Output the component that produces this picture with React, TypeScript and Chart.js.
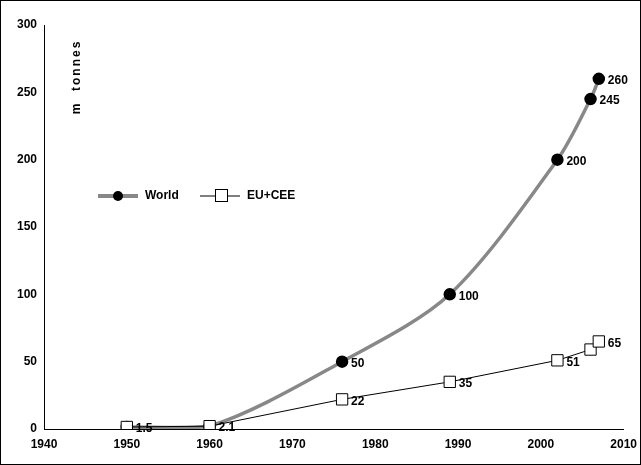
import { useEffect, useRef } from "react"
import { Chart, registerables } from "chart.js"

Chart.register(...registerables)

const years = [1950, 1960, 1976, 1989, 2002, 2006, 2007]
const world = [1.5, 2.1, 50, 100, 200, 245, 260]
const euCee = [1.5, 2.1, 22, 35, 51, 59, 65]
const worldLabels = ["", "", "50", "100", "200", "245", "260"]
const euLabels = ["1.5", "2.1", "22", "35", "51", "", "65"]

const FONT = "bold 12px 'Liberation Sans', Arial, sans-serif"

const extras = {
  id: "extras",
  afterDatasetsDraw(chart: Chart) {
    const ctx = chart.ctx
    ctx.save()
    ctx.font = FONT
    ctx.fillStyle = "#000"
    ctx.textBaseline = "middle"
    const lbls = [worldLabels, euLabels]
    lbls.forEach((list, di) => {
      const meta = chart.getDatasetMeta(di)
      meta.data.forEach((pt: any, i: number) => {
        if (list[i]) ctx.fillText(list[i], pt.x + 9, pt.y + 2)
      })
    })
    // axis title
    ctx.save()
    ctx.translate(76, 76)
    ctx.rotate(-Math.PI / 2)
    ctx.textAlign = "center"
    ;(ctx as any).letterSpacing = "2px"
    ctx.fillText("m  tonnes", 0, 0)
    ctx.restore()
    // legend
    const ly = 195
    ctx.strokeStyle = "#888"
    ctx.lineWidth = 4
    ctx.beginPath()
    ctx.moveTo(97, ly)
    ctx.lineTo(137, ly)
    ctx.stroke()
    ctx.fillStyle = "#000"
    ctx.beginPath()
    ctx.arc(117, ly, 5, 0, Math.PI * 2)
    ctx.fill()
    ctx.fillText("World", 144, ly)
    ctx.strokeStyle = "#000"
    ctx.lineWidth = 1
    ctx.beginPath()
    ctx.moveTo(199, ly)
    ctx.lineTo(239, ly)
    ctx.stroke()
    ctx.fillStyle = "#fff"
    ctx.fillRect(214, ly - 6, 12, 12)
    ctx.strokeRect(214.5, ly - 6.5, 12, 12)
    ctx.fillStyle = "#000"
    ctx.fillText("EU+CEE", 246, ly)
    ctx.restore()
  },
}

export default function App() {
  const ref = useRef<HTMLCanvasElement>(null)

  useEffect(() => {
    document.body.style.margin = "0"
    if (!ref.current) return
    const tickFont = { family: "'Liberation Sans', Arial", weight: "bold" as const, size: 12 }
    const chart = new Chart(ref.current, {
      type: "line",
      data: {
        datasets: [
          {
            label: "World",
            order: 1,
            data: years.map((x, i) => ({ x, y: world[i] })),
            borderColor: "#888",
            borderWidth: 3.5,
            tension: 0.3,
            pointStyle: "circle",
            pointRadius: 4.5,
            pointBackgroundColor: "#000",
            pointBorderColor: "#000",
          },
          {
            label: "EU+CEE",
            order: 0,
            data: years.map((x, i) => ({ x, y: euCee[i] })),
            borderColor: "#000",
            borderWidth: 1,
            tension: 0,
            pointStyle: "rect",
            pointRadius: 8,
            pointBackgroundColor: "#fff",
            pointBorderColor: "#000",
            pointBorderWidth: 1,
          },
        ],
      },
      options: {
        responsive: false,
        animation: false,
        layout: { padding: { left: 8, right: 14, top: 24, bottom: 10 } },
        plugins: { legend: { display: false }, tooltip: { enabled: false } },
        scales: {
          x: {
            type: "linear",
            min: 1940,
            max: 2010,
            afterFit: (s: any) => { s.height = 25 },
            ticks: { stepSize: 10, color: "#000", font: tickFont, callback: (v: any) => String(v) },
            grid: { display: false, drawTicks: true, tickLength: 5, color: "#000" },
            border: { color: "#000" },
          },
          y: {
            min: 0,
            max: 300,
            afterFit: (s: any) => { s.width = 35 },
            ticks: { stepSize: 50, color: "#000", font: tickFont },
            grid: { display: false, drawTicks: true, tickLength: 4, color: "#000" },
            border: { color: "#000" },
          },
        },
      },
      plugins: [extras],
    })
    return () => chart.destroy()
  }, [])

  return (
    <div style={{ width: 641, height: 465, boxSizing: "border-box", border: "1px solid #000" }}>
      <canvas ref={ref} width={639} height={463} />
    </div>
  )
}
